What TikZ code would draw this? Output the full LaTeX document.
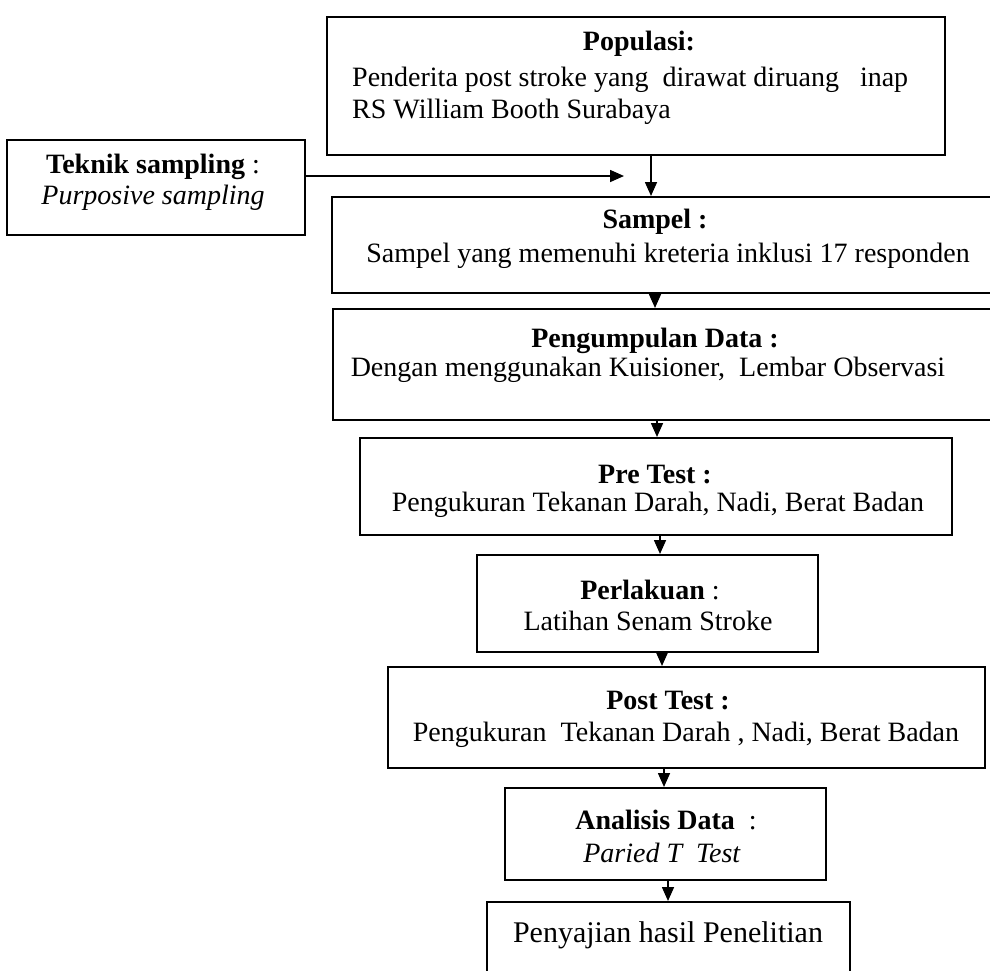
\documentclass[tikz,border=0pt]{standalone}
\usepackage{fontspec}
\setmainfont{Liberation Serif}
\usetikzlibrary{arrows.meta,fit}
\begin{document}
\begin{tikzpicture}[x=1pt,y=-1pt,
  box/.style={draw=black, line width=2pt, inner sep=0pt},
  txt/.style={inner sep=0pt, font=\fontsize{28}{34}\selectfont},
  arr/.style={draw=black, line width=1.6pt, -{Triangle[length=14pt,width=12pt]}}]
\fill[white] (0,0) rectangle (990,970);
\useasboundingbox (0,0) rectangle (990,970);
% boxes
\node[box, fit={(327,17) (945,155)}] (pop) {};
\node[box, fit={(7,140) (305,235)}] (tek) {};
\node[box, fit={(332,197) (1000,293)}] (samp) {};
\node[box, fit={(333,309) (1000,420)}] (peng) {};
\node[box, fit={(360,438) (952,535)}] (pre) {};
\node[box, fit={(477,555) (818,652)}] (perl) {};
\node[box, fit={(388,667) (985,768)}] (post) {};
\node[box, fit={(505,788) (826,880)}] (anal) {};
\node[box, fit={(487,902) (850,985)}] (peny) {};
% texts
\node[txt] (popT) at (639,44) {\textbf{Populasi:}};
\node[txt, anchor=west] (popL1) at (352,80) {Penderita post stroke yang\ \ dirawat diruang\ \ \ inap};
\node[txt, anchor=west] (popL2) at (352,112) {RS William Booth Surabaya};
\node[txt] (tekT) at (153,167) {\textbf{Teknik sampling} :};
\node[txt] (tekL) at (153,198) {\textit{Purposive sampling}};
\node[txt] (sampT) at (655,222) {\textbf{Sampel :}};
\node[txt] (sampL) at (668,256) {Sampel yang memenuhi kreteria inklusi 17 responden};
\node[txt] (pengT) at (655,341) {\textbf{Pengumpulan Data :}};
\node[txt] (pengL) at (648,370) {Dengan menggunakan Kuisioner,\ \ Lembar Observasi};
\node[txt] (preT) at (655,475) {\textbf{Pre Test :}};
\node[txt] (preL) at (658,505) {Pengukuran Tekanan Darah, Nadi, Berat Badan};
\node[txt] (perlT) at (650,590) {\textbf{Perlakuan} :};
\node[txt] (perlL) at (648,621) {Latihan Senam Stroke};
\node[txt] (postT) at (668,701) {\textbf{Post Test :}};
\node[txt] (postL) at (686,735) {Pengukuran\ \ Tekanan Darah , Nadi, Berat Badan};
\node[txt] (analT) at (666,820) {\textbf{Analisis Data}\ \ :};
\node[txt] (analL) at (662,853) {\textit{Paried T\ \ Test}};
\node[txt, font=\fontsize{30}{36}\selectfont] (penyL) at (668,935) {Penyajian hasil Penelitian};
% arrows
\coordinate (a1) at (651,0);
\coordinate (a2) at (655,0);
\coordinate (a3) at (657,0);
\coordinate (a4) at (660,0);
\coordinate (a5) at (662,0);
\coordinate (a6) at (664,0);
\coordinate (a7) at (668,0);
\coordinate (tip) at (624,176);
\draw[arr] (tek.east |- tip) -- (tip);
\draw[arr] (pop.south -| a1) -- (samp.north -| a1);
\draw[arr] (samp.south -| a2) -- (peng.north -| a2);
\draw[arr] (peng.south -| a3) -- (pre.north -| a3);
\draw[arr] (pre.south -| a4) -- (perl.north -| a4);
\draw[arr] (perl.south -| a5) -- (post.north -| a5);
\draw[arr] (post.south -| a6) -- (anal.north -| a6);
\draw[arr] (anal.south -| a7) -- (peny.north -| a7);
\end{tikzpicture}
\end{document}
